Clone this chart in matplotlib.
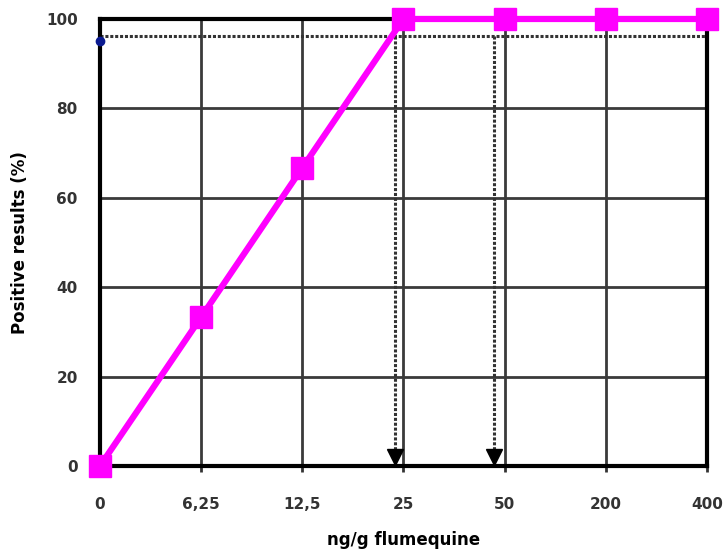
import numpy as np
import matplotlib.pyplot as plt

# Dose levels and detection rate
dose_labels = ['0', '6,25', '12,5', '25', '50', '200', '400']
positive_pct = [0, 33.3, 66.7, 100, 100, 100, 100]

cutoff_level = 96.2
blank_point = 95.1
arrow_x = [2.92, 3.9]

fig = plt.figure(figsize=(7.26, 5.5), dpi=100)
ax = fig.add_axes([0.1377, 0.1527, 0.836, 0.8128])

x = np.arange(len(dose_labels))

# grid
for xi in x[1:-1]:
    ax.axvline(xi, color='#3a3a3a', lw=2, zorder=1)
for yi in [20, 40, 60, 80]:
    ax.axhline(yi, color='#3a3a3a', lw=2, zorder=1)

# cut-off dotted line and arrows
ax.plot([0, 6], [cutoff_level, cutoff_level], color='#333333', lw=2.2,
        linestyle=(0, (1, 0.6)), zorder=2)
for ax_x in arrow_x:
    ax.plot([ax_x, ax_x], [cutoff_level, 3], color='#333333', lw=2.2,
            linestyle=(0, (1, 0.6)), zorder=2)
    ax.plot(ax_x, 2.0, marker='v', color='black', markersize=11, zorder=3)
ax.plot(0, blank_point, 'o', color='#0a1a90', markersize=6, zorder=4, clip_on=False)

ax.plot(x, positive_pct, color='magenta', lw=4.5, marker='s', markersize=16,
        markerfacecolor='magenta', markeredgecolor='magenta', zorder=5, clip_on=False)

ax.set_xlim(0, 6)
ax.set_ylim(0, 100)
ax.set_xticks(x)
ax.set_xticklabels(dose_labels)
ax.set_yticks([0, 20, 40, 60, 80, 100])

for s in ax.spines.values():
    s.set_linewidth(3)
    s.set_color('black')

ax.tick_params(axis='x', length=4, width=2, color='#333333', pad=18,
               labelsize=11, labelcolor='#333333')
ax.tick_params(axis='y', length=0, pad=16, labelsize=11, labelcolor='#333333')
for lab in ax.get_xticklabels() + ax.get_yticklabels():
    lab.set_fontweight('bold')

ax.set_xlabel('ng/g flumequine', fontsize=12, fontweight='bold', labelpad=14)
ax.set_ylabel('Positive results (%)', fontsize=12, fontweight='bold', labelpad=12)

fig.savefig('out.png', dpi=100)
